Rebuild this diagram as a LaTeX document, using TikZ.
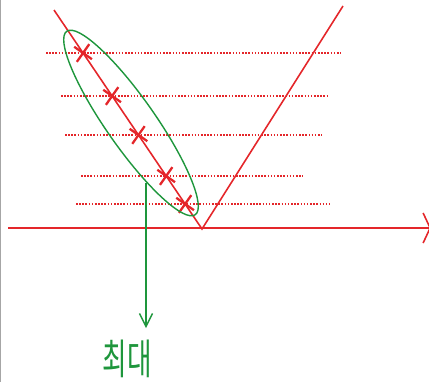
\documentclass[tikz,border=0pt]{standalone}
\usepackage{fontspec}
\newfontfamily\kofont{Noto Sans CJK KR}
\usetikzlibrary{arrows.meta,calc,shapes.misc}
\definecolor{penred}{RGB}{228,38,42}
\definecolor{pengreen}{RGB}{30,150,60}
\begin{document}
\begin{tikzpicture}[x=0.02cm, y=0.02cm,
    axisline/.style={penred, line width=0.9pt},
    levelline/.style={penred, line width=0.65pt, dash pattern=on 0.9pt off 0.9pt},
    crossmark/.style={cross out, draw=penred, line width=1.3pt, minimum size=0.26cm, inner sep=0pt, rotate=10},
    groupline/.style={pengreen, line width=0.8pt}]
  \useasboundingbox (0,0) rectangle (429,-382);
  % left edge of the screenshot
  \draw[gray!70, line width=0.8pt] (0.4,0) -- (0.4,-382);
  % axis and the V
  \coordinate (ax0) at (8,-228);
  \coordinate (ax1) at (431,-228);
  \coordinate (O) at (202,-229);
  \coordinate (L) at (54,-10);
  \coordinate (R) at (343,-6);
  \draw[axisline, -{Straight Barb[length=1.4mm, width=6mm]}] (ax0) -- (ax1);
  \draw[axisline] (L) -- (O) -- (R);
  % dotted levels: y / left end / right end
  \foreach \y/\xa/\xb [count=\k] in {53/46/341, 96/61/327, 135/65/322, 176/81/303, 204/76/330} {
    \coordinate (d\k a) at (\xa,-\y);
    \coordinate (d\k b) at (\xb,-\y);
    \draw[levelline] (d\k a) -- (d\k b);
    % cross where the level meets the left branch
    \node[crossmark] (x\k) at ($(L)!{(\y-10)/219}!(O)$) {};
  }
  % group round the crosses
  \coordinate (C) at (131,-123);
  \draw[groupline] (C) ellipse [x radius=2.24cm, y radius=0.49cm, rotate=-55];
  % arrow down to the label
  \coordinate (g0) at (146,-183);
  \coordinate (g1) at (146,-328);
  \draw[groupline, -{Straight Barb[length=2.6mm, width=2.6mm]}] (g0) -- (g1);
  \node[pengreen, font=\kofont\fontsize{19}{19}\selectfont, xscale=0.8, yscale=1.25] (mx) at (127,-359) {최대};
\end{tikzpicture}
\end{document}
